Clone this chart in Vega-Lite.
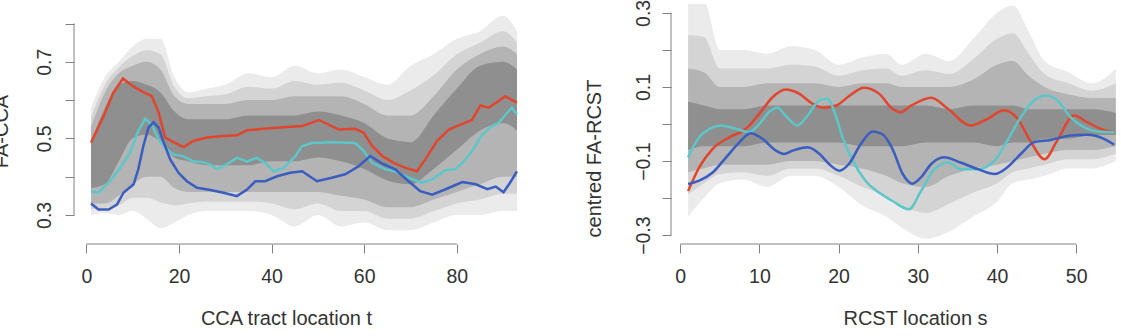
{
  "$schema": "https://vega.github.io/schema/vega-lite/v6.json",
  "background": "white",
  "padding": {"left": -9, "top": -1, "right": 0, "bottom": 0},
  "spacing": 50,
  "config": {
    "font": "Liberation Sans, sans-serif",
    "view": {"stroke": null},
    "axis": {
      "domain": false, "grid": false, "tickColor": "#808080", "tickSize": 9, "tickWidth": 1,
      "labelFont": "Liberation Sans, sans-serif", "labelFontSize": 19.5, "labelColor": "#333333",
      "labelPadding": 12, "labelFlush": false, "labelOverlap": false,
      "titleFont": "Liberation Sans, sans-serif", "titleFontSize": 20, "titleFontWeight": "normal", "titleColor": "#333333"
    }
  },
  "hconcat": [
    {
      "width": 460, "height": 240,
      "data": {"name": "left"},
      "encoding": {
        "x": {"field": "t", "type": "quantitative", "scale": {"domain": [-2.68, 96.68], "nice": false, "zero": false},
          "axis": {"values": [0, 20, 40, 60, 80], "labelPadding": 14, "title": "CCA tract location t", "titleX": 212, "titleY": 74, "titleAlign": "center", "titleBaseline": "middle"}},
        "y": {"field": "v", "type": "quantitative", "scale": {"domain": [0.224, 0.851], "nice": false, "zero": false},
          "axis": {"values": [0.3, 0.4, 0.5, 0.6, 0.7, 0.8], "labelExpr": "round(datum.value*10) % 2 == 1 ? format(datum.value, '.1f') : ''",
            "labelAngle": 270, "labelAlign": "center", "labelBaseline": "bottom", "labelPadding": 11,
            "title": "FA-CCA", "titleAngle": 270, "titleX": -73, "titleY": 127, "titleAlign": "center", "titleBaseline": "middle"}}
      },
      "layer": [
        {"transform": [{"filter": "datum.g == 'o'"}], "mark": {"type": "area", "color": "#ebebeb", "clip": true, "interpolate": "monotone"}, "encoding": {"y2": {"field": "v2"}}},
        {"transform": [{"filter": "datum.g == 'q'"}], "mark": {"type": "area", "color": "#d4d4d4", "clip": true, "interpolate": "monotone"}, "encoding": {"y2": {"field": "v2"}}},
        {"transform": [{"filter": "datum.g == 'm'"}], "mark": {"type": "area", "color": "#b4b4b4", "clip": true, "interpolate": "monotone"}, "encoding": {"y2": {"field": "v2"}}},
        {"transform": [{"filter": "datum.g == 'c'"}], "mark": {"type": "area", "color": "#8f8f8f", "clip": true, "interpolate": "monotone"}, "encoding": {"y2": {"field": "v2"}}},
        {"transform": [{"filter": "indexof(['red','cyan','blue'], datum.g) >= 0"}], "mark": {"type": "line", "strokeWidth": 2.5, "clip": true},
          "encoding": {"color": {"field": "g", "type": "nominal", "scale": {"domain": ["cyan", "blue", "red"], "range": ["#5cc6c9", "#3a5dbf", "#e2452d"]}, "legend": null}}},
        {"transform": [{"filter": "datum.g == 'ay'"}], "mark": {"type": "rule", "color": "#808080"}, "encoding": {"y2": {"field": "v2"}}},
        {"transform": [{"filter": "datum.g == 'ax'"}], "mark": {"type": "rule", "color": "#808080"}, "encoding": {"x2": {"field": "t2"}}}
      ]
    },
    {
      "width": 449, "height": 240,
      "data": {"name": "right"},
      "encoding": {
        "x": {"field": "t", "type": "quantitative", "scale": {"domain": [-1.16, 55.53], "nice": false, "zero": false},
          "axis": {"values": [0, 10, 20, 30, 40, 50], "labelPadding": 14, "title": "RCST location s", "titleX": 244, "titleY": 74, "titleAlign": "center", "titleBaseline": "middle"}},
        "y": {"field": "v", "type": "quantitative", "scale": {"domain": [-0.324, 0.324], "nice": false, "zero": false},
          "axis": {"values": [-0.3, -0.2, -0.1, 0, 0.1, 0.2, 0.3], "labelExpr": "abs(round(datum.value*10)) % 2 == 1 ? format(datum.value, '.1f') : ''",
            "labelAngle": 270, "labelAlign": "center", "labelBaseline": "bottom", "labelPadding": 9,
            "title": "centred FA-RCST", "titleAngle": 270, "titleX": -77, "titleY": 154, "titleAlign": "center", "titleBaseline": "middle"}}
      },
      "layer": [
        {"transform": [{"filter": "datum.g == 'o'"}], "mark": {"type": "area", "color": "#ebebeb", "clip": true, "interpolate": "monotone"}, "encoding": {"y2": {"field": "v2"}}},
        {"transform": [{"filter": "datum.g == 'q'"}], "mark": {"type": "area", "color": "#d4d4d4", "clip": true, "interpolate": "monotone"}, "encoding": {"y2": {"field": "v2"}}},
        {"transform": [{"filter": "datum.g == 'm'"}], "mark": {"type": "area", "color": "#b4b4b4", "clip": true, "interpolate": "monotone"}, "encoding": {"y2": {"field": "v2"}}},
        {"transform": [{"filter": "datum.g == 'c'"}], "mark": {"type": "area", "color": "#8f8f8f", "clip": true, "interpolate": "monotone"}, "encoding": {"y2": {"field": "v2"}}},
        {"transform": [{"filter": "indexof(['red','cyan','blue'], datum.g) >= 0"}], "mark": {"type": "line", "strokeWidth": 2.5, "clip": true, "interpolate": "monotone"},
          "encoding": {"color": {"field": "g", "type": "nominal", "scale": {"domain": ["cyan", "blue", "red"], "range": ["#5cc6c9", "#3a5dbf", "#e2452d"]}, "legend": null}}},
        {"transform": [{"filter": "datum.g == 'ay'"}], "mark": {"type": "rule", "color": "#808080"}, "encoding": {"y2": {"field": "v2"}}},
        {"transform": [{"filter": "datum.g == 'ax'"}], "mark": {"type": "rule", "color": "#808080"}, "encoding": {"x2": {"field": "t2"}}}
      ]
    }
  ],
  "datasets": {
    "left": [
      {"g": "ay", "t": -2.68, "v": 0.3, "v2": 0.8},
      {"g": "ax", "t": 0, "t2": 80, "v": 0.224},
      {"g": "o", "t": 1, "v": 0.30, "v2": 0.58}, {"g": "o", "t": 4, "v": 0.305, "v2": 0.66}, {"g": "o", "t": 7, "v": 0.30, "v2": 0.70},
      {"g": "o", "t": 10, "v": 0.31, "v2": 0.74}, {"g": "o", "t": 13, "v": 0.29, "v2": 0.76}, {"g": "o", "t": 16, "v": 0.265, "v2": 0.76},
      {"g": "o", "t": 19, "v": 0.28, "v2": 0.66}, {"g": "o", "t": 22, "v": 0.30, "v2": 0.62}, {"g": "o", "t": 26, "v": 0.31, "v2": 0.63},
      {"g": "o", "t": 30, "v": 0.31, "v2": 0.64}, {"g": "o", "t": 35, "v": 0.31, "v2": 0.67}, {"g": "o", "t": 40, "v": 0.30, "v2": 0.66},
      {"g": "o", "t": 45, "v": 0.27, "v2": 0.69}, {"g": "o", "t": 50, "v": 0.30, "v2": 0.67}, {"g": "o", "t": 55, "v": 0.27, "v2": 0.68},
      {"g": "o", "t": 60, "v": 0.28, "v2": 0.66}, {"g": "o", "t": 65, "v": 0.26, "v2": 0.64}, {"g": "o", "t": 70, "v": 0.26, "v2": 0.69},
      {"g": "o", "t": 75, "v": 0.28, "v2": 0.72}, {"g": "o", "t": 80, "v": 0.30, "v2": 0.76}, {"g": "o", "t": 85, "v": 0.30, "v2": 0.78},
      {"g": "o", "t": 90, "v": 0.31, "v2": 0.82}, {"g": "o", "t": 93, "v": 0.31, "v2": 0.78},
      {"g": "q", "t": 1, "v": 0.315, "v2": 0.555}, {"g": "q", "t": 4, "v": 0.318, "v2": 0.64}, {"g": "q", "t": 7, "v": 0.325, "v2": 0.685},
      {"g": "q", "t": 10, "v": 0.345, "v2": 0.715}, {"g": "q", "t": 13, "v": 0.345, "v2": 0.73}, {"g": "q", "t": 16, "v": 0.333, "v2": 0.72},
      {"g": "q", "t": 19, "v": 0.325, "v2": 0.635}, {"g": "q", "t": 22, "v": 0.33, "v2": 0.605}, {"g": "q", "t": 26, "v": 0.335, "v2": 0.61},
      {"g": "q", "t": 30, "v": 0.335, "v2": 0.615}, {"g": "q", "t": 35, "v": 0.335, "v2": 0.635}, {"g": "q", "t": 40, "v": 0.33, "v2": 0.63},
      {"g": "q", "t": 45, "v": 0.315, "v2": 0.65}, {"g": "q", "t": 50, "v": 0.33, "v2": 0.64}, {"g": "q", "t": 55, "v": 0.31, "v2": 0.645},
      {"g": "q", "t": 60, "v": 0.31, "v2": 0.625}, {"g": "q", "t": 65, "v": 0.29, "v2": 0.60}, {"g": "q", "t": 70, "v": 0.29, "v2": 0.625},
      {"g": "q", "t": 75, "v": 0.31, "v2": 0.665}, {"g": "q", "t": 80, "v": 0.33, "v2": 0.72}, {"g": "q", "t": 85, "v": 0.34, "v2": 0.75},
      {"g": "q", "t": 90, "v": 0.355, "v2": 0.78}, {"g": "q", "t": 93, "v": 0.355, "v2": 0.75},
      {"g": "m", "t": 1, "v": 0.33, "v2": 0.53}, {"g": "m", "t": 4, "v": 0.33, "v2": 0.62}, {"g": "m", "t": 7, "v": 0.35, "v2": 0.67},
      {"g": "m", "t": 10, "v": 0.38, "v2": 0.69}, {"g": "m", "t": 13, "v": 0.40, "v2": 0.70}, {"g": "m", "t": 16, "v": 0.40, "v2": 0.68},
      {"g": "m", "t": 19, "v": 0.37, "v2": 0.61}, {"g": "m", "t": 22, "v": 0.36, "v2": 0.59}, {"g": "m", "t": 26, "v": 0.36, "v2": 0.59},
      {"g": "m", "t": 30, "v": 0.36, "v2": 0.59}, {"g": "m", "t": 35, "v": 0.36, "v2": 0.60}, {"g": "m", "t": 40, "v": 0.36, "v2": 0.60},
      {"g": "m", "t": 45, "v": 0.36, "v2": 0.61}, {"g": "m", "t": 50, "v": 0.36, "v2": 0.61}, {"g": "m", "t": 55, "v": 0.35, "v2": 0.61},
      {"g": "m", "t": 60, "v": 0.34, "v2": 0.59}, {"g": "m", "t": 65, "v": 0.32, "v2": 0.56}, {"g": "m", "t": 70, "v": 0.32, "v2": 0.56},
      {"g": "m", "t": 75, "v": 0.34, "v2": 0.61}, {"g": "m", "t": 80, "v": 0.36, "v2": 0.68}, {"g": "m", "t": 85, "v": 0.38, "v2": 0.72},
      {"g": "m", "t": 90, "v": 0.40, "v2": 0.74}, {"g": "m", "t": 93, "v": 0.40, "v2": 0.72},
      {"g": "c", "t": 1, "v": 0.37, "v2": 0.49}, {"g": "c", "t": 4, "v": 0.38, "v2": 0.58}, {"g": "c", "t": 7, "v": 0.44, "v2": 0.64},
      {"g": "c", "t": 10, "v": 0.50, "v2": 0.65}, {"g": "c", "t": 13, "v": 0.51, "v2": 0.64}, {"g": "c", "t": 16, "v": 0.49, "v2": 0.62},
      {"g": "c", "t": 19, "v": 0.45, "v2": 0.57}, {"g": "c", "t": 22, "v": 0.44, "v2": 0.55}, {"g": "c", "t": 26, "v": 0.43, "v2": 0.55},
      {"g": "c", "t": 30, "v": 0.43, "v2": 0.55}, {"g": "c", "t": 35, "v": 0.43, "v2": 0.56}, {"g": "c", "t": 40, "v": 0.44, "v2": 0.56},
      {"g": "c", "t": 45, "v": 0.44, "v2": 0.56}, {"g": "c", "t": 50, "v": 0.45, "v2": 0.57}, {"g": "c", "t": 55, "v": 0.44, "v2": 0.56},
      {"g": "c", "t": 60, "v": 0.42, "v2": 0.54}, {"g": "c", "t": 65, "v": 0.39, "v2": 0.50}, {"g": "c", "t": 70, "v": 0.38, "v2": 0.49},
      {"g": "c", "t": 75, "v": 0.42, "v2": 0.56}, {"g": "c", "t": 80, "v": 0.47, "v2": 0.63}, {"g": "c", "t": 85, "v": 0.52, "v2": 0.69},
      {"g": "c", "t": 90, "v": 0.54, "v2": 0.70}, {"g": "c", "t": 93, "v": 0.52, "v2": 0.68},
      {"g": "red", "t": 1, "v": 0.489}, {"g": "red", "t": 3.7, "v": 0.558}, {"g": "red", "t": 5.8, "v": 0.619}, {"g": "red", "t": 7.9, "v": 0.656},
      {"g": "red", "t": 10.2, "v": 0.635}, {"g": "red", "t": 12.3, "v": 0.621}, {"g": "red", "t": 14.1, "v": 0.610}, {"g": "red", "t": 15.6, "v": 0.568},
      {"g": "red", "t": 17, "v": 0.502}, {"g": "red", "t": 18.8, "v": 0.490}, {"g": "red", "t": 21, "v": 0.477}, {"g": "red", "t": 23.1, "v": 0.493},
      {"g": "red", "t": 26, "v": 0.502}, {"g": "red", "t": 29.6, "v": 0.506}, {"g": "red", "t": 32.5, "v": 0.508}, {"g": "red", "t": 34.7, "v": 0.521},
      {"g": "red", "t": 38.3, "v": 0.525}, {"g": "red", "t": 42.6, "v": 0.529}, {"g": "red", "t": 46.6, "v": 0.532}, {"g": "red", "t": 50.2, "v": 0.548},
      {"g": "red", "t": 54.5, "v": 0.523}, {"g": "red", "t": 58.1, "v": 0.525}, {"g": "red", "t": 59.9, "v": 0.515}, {"g": "red", "t": 61.7, "v": 0.480},
      {"g": "red", "t": 63.9, "v": 0.454}, {"g": "red", "t": 66.4, "v": 0.436}, {"g": "red", "t": 68.9, "v": 0.423}, {"g": "red", "t": 71.4, "v": 0.414},
      {"g": "red", "t": 73.2, "v": 0.445}, {"g": "red", "t": 75.7, "v": 0.493}, {"g": "red", "t": 78.3, "v": 0.523}, {"g": "red", "t": 80.4, "v": 0.534},
      {"g": "red", "t": 83.3, "v": 0.548}, {"g": "red", "t": 85.1, "v": 0.586}, {"g": "red", "t": 86.9, "v": 0.580}, {"g": "red", "t": 90.5, "v": 0.610},
      {"g": "red", "t": 93, "v": 0.593},
      {"g": "cyan", "t": 1, "v": 0.362}, {"g": "cyan", "t": 2.6, "v": 0.358}, {"g": "cyan", "t": 5.1, "v": 0.388}, {"g": "cyan", "t": 7.3, "v": 0.423},
      {"g": "cyan", "t": 9.4, "v": 0.462}, {"g": "cyan", "t": 11.2, "v": 0.519}, {"g": "cyan", "t": 12.7, "v": 0.551}, {"g": "cyan", "t": 14.1, "v": 0.536},
      {"g": "cyan", "t": 15.6, "v": 0.497}, {"g": "cyan", "t": 17.4, "v": 0.471}, {"g": "cyan", "t": 18.8, "v": 0.458}, {"g": "cyan", "t": 21, "v": 0.453},
      {"g": "cyan", "t": 23.1, "v": 0.440}, {"g": "cyan", "t": 25, "v": 0.438}, {"g": "cyan", "t": 26.7, "v": 0.432}, {"g": "cyan", "t": 28.2, "v": 0.419},
      {"g": "cyan", "t": 30.3, "v": 0.432}, {"g": "cyan", "t": 32.5, "v": 0.449}, {"g": "cyan", "t": 34.7, "v": 0.440}, {"g": "cyan", "t": 36.8, "v": 0.449},
      {"g": "cyan", "t": 38.6, "v": 0.436}, {"g": "cyan", "t": 40.4, "v": 0.414}, {"g": "cyan", "t": 42.6, "v": 0.423}, {"g": "cyan", "t": 45.1, "v": 0.453},
      {"g": "cyan", "t": 46.6, "v": 0.480}, {"g": "cyan", "t": 48.7, "v": 0.488}, {"g": "cyan", "t": 53, "v": 0.490}, {"g": "cyan", "t": 58.1, "v": 0.488},
      {"g": "cyan", "t": 59.9, "v": 0.467}, {"g": "cyan", "t": 61.7, "v": 0.436}, {"g": "cyan", "t": 64.6, "v": 0.419}, {"g": "cyan", "t": 66.7, "v": 0.414},
      {"g": "cyan", "t": 69.6, "v": 0.397}, {"g": "cyan", "t": 72.5, "v": 0.384}, {"g": "cyan", "t": 74.7, "v": 0.393}, {"g": "cyan", "t": 77.6, "v": 0.417},
      {"g": "cyan", "t": 79.7, "v": 0.419}, {"g": "cyan", "t": 81.9, "v": 0.445}, {"g": "cyan", "t": 83.3, "v": 0.467}, {"g": "cyan", "t": 85.5, "v": 0.510},
      {"g": "cyan", "t": 87.6, "v": 0.532}, {"g": "cyan", "t": 89.1, "v": 0.541}, {"g": "cyan", "t": 90.9, "v": 0.567}, {"g": "cyan", "t": 91.9, "v": 0.580},
      {"g": "cyan", "t": 93, "v": 0.562},
      {"g": "blue", "t": 1, "v": 0.330}, {"g": "blue", "t": 2.6, "v": 0.314}, {"g": "blue", "t": 4.8, "v": 0.314}, {"g": "blue", "t": 6.6, "v": 0.327},
      {"g": "blue", "t": 8, "v": 0.358}, {"g": "blue", "t": 10.2, "v": 0.380}, {"g": "blue", "t": 11.2, "v": 0.419}, {"g": "blue", "t": 12.3, "v": 0.480},
      {"g": "blue", "t": 13.4, "v": 0.528}, {"g": "blue", "t": 14.5, "v": 0.542}, {"g": "blue", "t": 15.6, "v": 0.528}, {"g": "blue", "t": 16.7, "v": 0.489},
      {"g": "blue", "t": 18.1, "v": 0.445}, {"g": "blue", "t": 19.9, "v": 0.410}, {"g": "blue", "t": 21.7, "v": 0.388}, {"g": "blue", "t": 23.9, "v": 0.371},
      {"g": "blue", "t": 26.8, "v": 0.365}, {"g": "blue", "t": 29.6, "v": 0.358}, {"g": "blue", "t": 32.5, "v": 0.349}, {"g": "blue", "t": 34.7, "v": 0.366},
      {"g": "blue", "t": 36.5, "v": 0.388}, {"g": "blue", "t": 38.6, "v": 0.388}, {"g": "blue", "t": 41.2, "v": 0.401}, {"g": "blue", "t": 44, "v": 0.410},
      {"g": "blue", "t": 46.6, "v": 0.414}, {"g": "blue", "t": 49.8, "v": 0.388}, {"g": "blue", "t": 53, "v": 0.397}, {"g": "blue", "t": 55.9, "v": 0.406},
      {"g": "blue", "t": 58.8, "v": 0.427}, {"g": "blue", "t": 61.3, "v": 0.454}, {"g": "blue", "t": 63.9, "v": 0.434}, {"g": "blue", "t": 66.7, "v": 0.419},
      {"g": "blue", "t": 69.6, "v": 0.388}, {"g": "blue", "t": 72.1, "v": 0.362}, {"g": "blue", "t": 74.7, "v": 0.353}, {"g": "blue", "t": 77.6, "v": 0.367},
      {"g": "blue", "t": 81.2, "v": 0.386}, {"g": "blue", "t": 84.1, "v": 0.380}, {"g": "blue", "t": 86.6, "v": 0.367}, {"g": "blue", "t": 88.4, "v": 0.374},
      {"g": "blue", "t": 90.1, "v": 0.359}, {"g": "blue", "t": 91.5, "v": 0.384}, {"g": "blue", "t": 93, "v": 0.414}
    ],
    "right": [
      {"g": "ay", "t": -1.16, "v": -0.3, "v2": 0.3},
      {"g": "ax", "t": 0, "t2": 50, "v": -0.324},
      {"g": "o", "t": 1, "v": -0.25, "v2": 0.33}, {"g": "o", "t": 3, "v": -0.20, "v2": 0.33}, {"g": "o", "t": 5, "v": -0.16, "v2": 0.20},
      {"g": "o", "t": 8, "v": -0.15, "v2": 0.20}, {"g": "o", "t": 11, "v": -0.17, "v2": 0.19}, {"g": "o", "t": 14, "v": -0.14, "v2": 0.21},
      {"g": "o", "t": 17, "v": -0.14, "v2": 0.20}, {"g": "o", "t": 20, "v": -0.17, "v2": 0.16}, {"g": "o", "t": 23, "v": -0.22, "v2": 0.18},
      {"g": "o", "t": 26, "v": -0.25, "v2": 0.19}, {"g": "o", "t": 28, "v": -0.28, "v2": 0.16}, {"g": "o", "t": 31, "v": -0.31, "v2": 0.19},
      {"g": "o", "t": 34, "v": -0.29, "v2": 0.17}, {"g": "o", "t": 37, "v": -0.25, "v2": 0.23}, {"g": "o", "t": 40, "v": -0.21, "v2": 0.30},
      {"g": "o", "t": 42, "v": -0.16, "v2": 0.32}, {"g": "o", "t": 44, "v": -0.15, "v2": 0.25}, {"g": "o", "t": 46, "v": -0.14, "v2": 0.17},
      {"g": "o", "t": 49, "v": -0.12, "v2": 0.14}, {"g": "o", "t": 52, "v": -0.12, "v2": 0.11}, {"g": "o", "t": 55, "v": -0.10, "v2": 0.15},
      {"g": "q", "t": 1, "v": -0.19, "v2": 0.24}, {"g": "q", "t": 3, "v": -0.16, "v2": 0.235}, {"g": "q", "t": 5, "v": -0.135, "v2": 0.15},
      {"g": "q", "t": 8, "v": -0.13, "v2": 0.15}, {"g": "q", "t": 11, "v": -0.14, "v2": 0.15}, {"g": "q", "t": 14, "v": -0.12, "v2": 0.16},
      {"g": "q", "t": 17, "v": -0.12, "v2": 0.155}, {"g": "q", "t": 20, "v": -0.14, "v2": 0.13}, {"g": "q", "t": 23, "v": -0.17, "v2": 0.145},
      {"g": "q", "t": 26, "v": -0.195, "v2": 0.15}, {"g": "q", "t": 28, "v": -0.22, "v2": 0.13}, {"g": "q", "t": 31, "v": -0.24, "v2": 0.145},
      {"g": "q", "t": 34, "v": -0.215, "v2": 0.135}, {"g": "q", "t": 37, "v": -0.185, "v2": 0.175}, {"g": "q", "t": 40, "v": -0.16, "v2": 0.23},
      {"g": "q", "t": 42, "v": -0.13, "v2": 0.245}, {"g": "q", "t": 44, "v": -0.12, "v2": 0.19}, {"g": "q", "t": 46, "v": -0.11, "v2": 0.135},
      {"g": "q", "t": 49, "v": -0.095, "v2": 0.11}, {"g": "q", "t": 52, "v": -0.095, "v2": 0.09}, {"g": "q", "t": 55, "v": -0.08, "v2": 0.11},
      {"g": "m", "t": 1, "v": -0.13, "v2": 0.15}, {"g": "m", "t": 3, "v": -0.12, "v2": 0.14}, {"g": "m", "t": 5, "v": -0.11, "v2": 0.10},
      {"g": "m", "t": 8, "v": -0.11, "v2": 0.10}, {"g": "m", "t": 11, "v": -0.11, "v2": 0.11}, {"g": "m", "t": 14, "v": -0.10, "v2": 0.11},
      {"g": "m", "t": 17, "v": -0.10, "v2": 0.11}, {"g": "m", "t": 20, "v": -0.11, "v2": 0.10}, {"g": "m", "t": 23, "v": -0.12, "v2": 0.11},
      {"g": "m", "t": 26, "v": -0.14, "v2": 0.11}, {"g": "m", "t": 28, "v": -0.16, "v2": 0.10}, {"g": "m", "t": 31, "v": -0.17, "v2": 0.10},
      {"g": "m", "t": 34, "v": -0.14, "v2": 0.10}, {"g": "m", "t": 37, "v": -0.12, "v2": 0.12}, {"g": "m", "t": 40, "v": -0.11, "v2": 0.16},
      {"g": "m", "t": 42, "v": -0.10, "v2": 0.17}, {"g": "m", "t": 44, "v": -0.09, "v2": 0.13}, {"g": "m", "t": 46, "v": -0.08, "v2": 0.10},
      {"g": "m", "t": 49, "v": -0.07, "v2": 0.08}, {"g": "m", "t": 52, "v": -0.07, "v2": 0.07}, {"g": "m", "t": 55, "v": -0.06, "v2": 0.07},
      {"g": "c", "t": 1, "v": -0.07, "v2": 0.06}, {"g": "c", "t": 3, "v": -0.06, "v2": 0.05}, {"g": "c", "t": 5, "v": -0.06, "v2": 0.04},
      {"g": "c", "t": 8, "v": -0.06, "v2": 0.04}, {"g": "c", "t": 11, "v": -0.05, "v2": 0.05}, {"g": "c", "t": 14, "v": -0.05, "v2": 0.05},
      {"g": "c", "t": 17, "v": -0.05, "v2": 0.05}, {"g": "c", "t": 20, "v": -0.05, "v2": 0.05}, {"g": "c", "t": 23, "v": -0.06, "v2": 0.05},
      {"g": "c", "t": 26, "v": -0.06, "v2": 0.05}, {"g": "c", "t": 28, "v": -0.06, "v2": 0.05}, {"g": "c", "t": 31, "v": -0.05, "v2": 0.05},
      {"g": "c", "t": 34, "v": -0.05, "v2": 0.04}, {"g": "c", "t": 37, "v": -0.05, "v2": 0.05}, {"g": "c", "t": 40, "v": -0.06, "v2": 0.05},
      {"g": "c", "t": 42, "v": -0.05, "v2": 0.05}, {"g": "c", "t": 44, "v": -0.05, "v2": 0.04}, {"g": "c", "t": 46, "v": -0.04, "v2": 0.04},
      {"g": "c", "t": 49, "v": -0.04, "v2": 0.04}, {"g": "c", "t": 52, "v": -0.03, "v2": 0.04}, {"g": "c", "t": 55, "v": -0.03, "v2": 0.03},
      {"g": "red", "t": 1, "v": -0.181}, {"g": "red", "t": 2.4, "v": -0.117}, {"g": "red", "t": 4.1, "v": -0.067}, {"g": "red", "t": 6.2, "v": -0.036},
      {"g": "red", "t": 8.3, "v": -0.013}, {"g": "red", "t": 10, "v": 0.028}, {"g": "red", "t": 11.7, "v": 0.073}, {"g": "red", "t": 13.3, "v": 0.093},
      {"g": "red", "t": 15, "v": 0.082}, {"g": "red", "t": 16.7, "v": 0.055}, {"g": "red", "t": 18, "v": 0.044}, {"g": "red", "t": 19.7, "v": 0.050},
      {"g": "red", "t": 21.3, "v": 0.075}, {"g": "red", "t": 23.2, "v": 0.098}, {"g": "red", "t": 25.1, "v": 0.082}, {"g": "red", "t": 26.8, "v": 0.041},
      {"g": "red", "t": 27.8, "v": 0.032}, {"g": "red", "t": 29.2, "v": 0.050}, {"g": "red", "t": 31.7, "v": 0.071}, {"g": "red", "t": 33.8, "v": 0.041},
      {"g": "red", "t": 36.7, "v": -0.004}, {"g": "red", "t": 38.8, "v": 0.014}, {"g": "red", "t": 40.9, "v": 0.037}, {"g": "red", "t": 42.6, "v": 0.014},
      {"g": "red", "t": 44.3, "v": -0.049}, {"g": "red", "t": 46, "v": -0.095}, {"g": "red", "t": 47.6, "v": -0.045}, {"g": "red", "t": 49.7, "v": 0.023},
      {"g": "red", "t": 51.4, "v": 0.005}, {"g": "red", "t": 53.1, "v": -0.013}, {"g": "red", "t": 54.8, "v": -0.022},
      {"g": "cyan", "t": 1, "v": -0.090}, {"g": "cyan", "t": 2.4, "v": -0.036}, {"g": "cyan", "t": 3.7, "v": -0.013}, {"g": "cyan", "t": 5.1, "v": -0.004},
      {"g": "cyan", "t": 7, "v": -0.013}, {"g": "cyan", "t": 8.7, "v": -0.022}, {"g": "cyan", "t": 10, "v": 0.0}, {"g": "cyan", "t": 11.2, "v": 0.032},
      {"g": "cyan", "t": 12.3, "v": 0.044}, {"g": "cyan", "t": 13.3, "v": 0.023}, {"g": "cyan", "t": 14.8, "v": -0.004}, {"g": "cyan", "t": 16.1, "v": 0.023},
      {"g": "cyan", "t": 17.6, "v": 0.064}, {"g": "cyan", "t": 18.6, "v": 0.068}, {"g": "cyan", "t": 19.4, "v": 0.037}, {"g": "cyan", "t": 20.5, "v": -0.036},
      {"g": "cyan", "t": 21.8, "v": -0.099}, {"g": "cyan", "t": 23.4, "v": -0.153}, {"g": "cyan", "t": 25.1, "v": -0.185}, {"g": "cyan", "t": 26.8, "v": -0.208},
      {"g": "cyan", "t": 28.9, "v": -0.230}, {"g": "cyan", "t": 30.4, "v": -0.181}, {"g": "cyan", "t": 32.1, "v": -0.122}, {"g": "cyan", "t": 33.8, "v": -0.104},
      {"g": "cyan", "t": 35.4, "v": -0.122}, {"g": "cyan", "t": 37.6, "v": -0.122}, {"g": "cyan", "t": 39.7, "v": -0.099}, {"g": "cyan", "t": 41.3, "v": -0.045},
      {"g": "cyan", "t": 43, "v": 0.018}, {"g": "cyan", "t": 44.7, "v": 0.064}, {"g": "cyan", "t": 46.2, "v": 0.077}, {"g": "cyan", "t": 47.6, "v": 0.064},
      {"g": "cyan", "t": 49.3, "v": 0.018}, {"g": "cyan", "t": 51, "v": -0.009}, {"g": "cyan", "t": 52.7, "v": -0.020}, {"g": "cyan", "t": 54.8, "v": -0.022},
      {"g": "blue", "t": 1, "v": -0.162}, {"g": "blue", "t": 2.4, "v": -0.153}, {"g": "blue", "t": 4.1, "v": -0.131}, {"g": "blue", "t": 5.8, "v": -0.090},
      {"g": "blue", "t": 7.5, "v": -0.049}, {"g": "blue", "t": 8.9, "v": -0.025}, {"g": "blue", "t": 10.4, "v": -0.040}, {"g": "blue", "t": 12.1, "v": -0.072},
      {"g": "blue", "t": 13.1, "v": -0.081}, {"g": "blue", "t": 14.2, "v": -0.072}, {"g": "blue", "t": 16.1, "v": -0.063}, {"g": "blue", "t": 17.6, "v": -0.081},
      {"g": "blue", "t": 18.8, "v": -0.108}, {"g": "blue", "t": 20.1, "v": -0.126}, {"g": "blue", "t": 21.3, "v": -0.108}, {"g": "blue", "t": 22.8, "v": -0.054},
      {"g": "blue", "t": 24.3, "v": -0.020}, {"g": "blue", "t": 25.5, "v": -0.027}, {"g": "blue", "t": 26.8, "v": -0.067}, {"g": "blue", "t": 28.1, "v": -0.135},
      {"g": "blue", "t": 29.3, "v": -0.161}, {"g": "blue", "t": 30.4, "v": -0.144}, {"g": "blue", "t": 31.7, "v": -0.108}, {"g": "blue", "t": 33.3, "v": -0.090},
      {"g": "blue", "t": 35.4, "v": -0.104}, {"g": "blue", "t": 37.6, "v": -0.122}, {"g": "blue", "t": 39.7, "v": -0.135}, {"g": "blue", "t": 41.3, "v": -0.117},
      {"g": "blue", "t": 43, "v": -0.081}, {"g": "blue", "t": 44.7, "v": -0.049}, {"g": "blue", "t": 46.8, "v": -0.043}, {"g": "blue", "t": 49.3, "v": -0.031},
      {"g": "blue", "t": 51.4, "v": -0.029}, {"g": "blue", "t": 53.5, "v": -0.040}, {"g": "blue", "t": 54.8, "v": -0.056}
    ]
  }
}
